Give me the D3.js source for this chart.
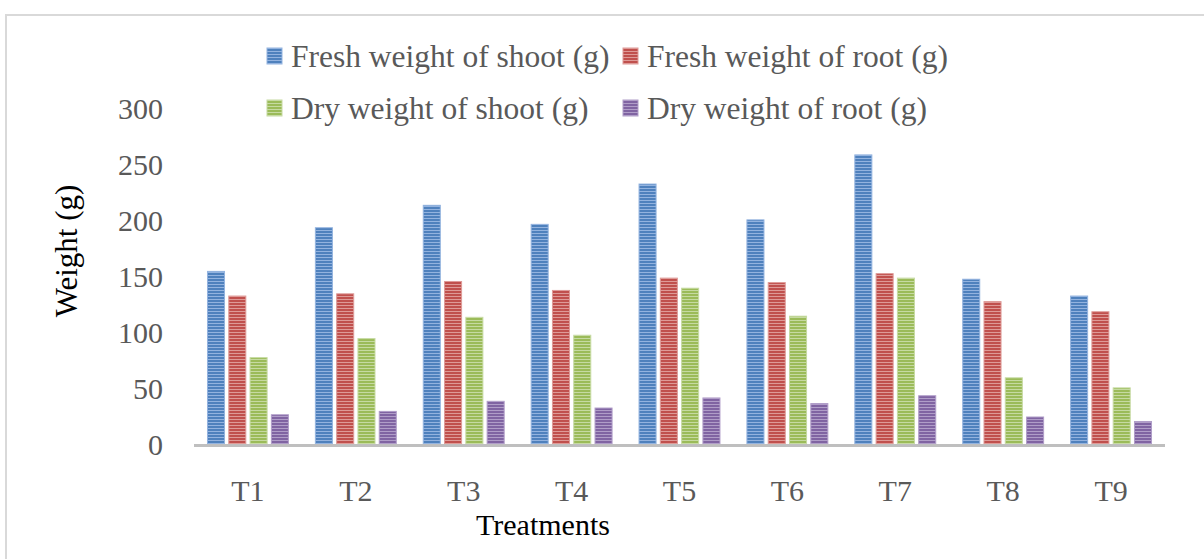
<!DOCTYPE html>
<html>
<head>
<meta charset="utf-8">
<script src="https://cdn.jsdelivr.net/npm/d3@7"></script>
<style>
  html, body { margin: 0; padding: 0; background: #fff; }
  svg { display: block; font-family: "Liberation Serif", "Times New Roman", serif; }
</style>
</head>
<body>
<svg id="chart" width="1204" height="559"></svg>
<script>
const categories = ["T1", "T2", "T3", "T4", "T5", "T6", "T7", "T8", "T9"];
const seriesNames = ["Fresh weight of shoot (g)", "Fresh weight of root (g)", "Dry weight of shoot (g)", "Dry weight of root (g)"];
const freshShoot = [155, 194, 214, 197, 233, 201, 259, 148, 133];
const freshRoot  = [133, 135, 146, 138, 149, 145, 153, 128, 119];
const dryShoot   = [78, 95, 114, 98, 140, 115, 149, 60, 51];
const dryRoot    = [27, 30, 39, 33, 42, 37, 44, 25, 21];
const yTicks = [0, 50, 100, 150, 200, 250, 300];

const seriesValues = [freshShoot, freshRoot, dryShoot, dryRoot];
const baseColors = ["#4F81BD", "#C0504D", "#9BBB59", "#8064A2"];
const lightColors = ["#93b3df", "#de9a97", "#c6daa2", "#b09dc8"];

const svg = d3.select("#chart");
const defs = svg.append("defs");
baseColors.forEach((c, i) => {
  const p = defs.append("pattern")
    .attr("id", "stripe" + i)
    .attr("patternUnits", "userSpaceOnUse")
    .attr("width", 4).attr("height", 3);
  p.append("rect").attr("width", 4).attr("height", 3).attr("fill", c);
  p.append("rect").attr("y", 2).attr("width", 4).attr("height", 1).attr("fill", lightColors[i]);
});

// outer frame
svg.append("rect")
  .attr("x", 6).attr("y", 15).attr("width", 1260).attr("height", 620)
  .attr("fill", "none").attr("stroke", "#d9d9d9").attr("stroke-width", 2);

const x0 = d3.scaleBand().domain(categories).range([194, 1165]).paddingInner(0.25).paddingOuter(0.125);
const x1 = d3.scaleBand().domain(d3.range(seriesNames.length)).range([0, x0.bandwidth()]).paddingInner(0.2);
const y = d3.scaleLinear().domain([0, 300]).range([445, 109]);

// bars
const groups = svg.append("g").selectAll("g")
  .data(categories)
  .join("g")
  .attr("transform", d => `translate(${x0(d)},0)`);

groups.selectAll("rect")
  .data((d, ci) => seriesValues.map((vals, si) => ({ si, v: vals[ci] })))
  .join("rect")
  .attr("x", d => x1(d.si))
  .attr("width", x1.bandwidth())
  .attr("y", d => y(d.v))
  .attr("height", d => y(0) - y(d.v))
  .attr("fill", d => `url(#stripe${d.si})`)
  .attr("stroke", d => lightColors[d.si])
  .attr("stroke-width", 1);

// x axis line
svg.append("line")
  .attr("x1", 194).attr("x2", 1165)
  .attr("y1", y(0) + 0.5).attr("y2", y(0) + 0.5)
  .attr("stroke", "#bfbfbf").attr("stroke-width", 3);

// y tick labels
const yAxis = d3.axisLeft(y).tickValues(yTicks).tickSize(0).tickPadding(0);
const yg = svg.append("g").attr("transform", "translate(163,0)").call(yAxis);
yg.select(".domain").remove();
yg.selectAll("text")
  .attr("font-family", "Liberation Serif, Times New Roman, serif")
  .attr("font-size", 30).attr("fill", "#595959")
  .attr("dy", "0.33em");

// x tick labels
const xAxis = d3.axisBottom(x0).tickSize(0).tickPadding(0);
const xg = svg.append("g").attr("transform", "translate(0,501)").call(xAxis);
xg.select(".domain").remove();
xg.selectAll("text")
  .attr("font-family", "Liberation Serif, Times New Roman, serif")
  .attr("font-size", 30).attr("fill", "#595959")
  .attr("dy", 0).attr("y", 0);

// axis titles
svg.append("text")
  .attr("x", 543).attr("y", 535)
  .attr("text-anchor", "middle")
  .attr("font-size", 30).attr("fill", "#000")
  .text("Treatments");

svg.append("text")
  .attr("transform", "translate(77,251) rotate(-90)")
  .attr("text-anchor", "middle")
  .attr("font-size", 31).attr("fill", "#000")
  .text("Weight (g)");

// legend
const legendPos = [
  { x: 267, y: 67 }, { x: 623, y: 67 },
  { x: 267, y: 119 }, { x: 623, y: 119 }
];
const lg = svg.append("g").selectAll("g")
  .data(seriesNames)
  .join("g")
  .attr("transform", (d, i) => `translate(${legendPos[i].x},${legendPos[i].y})`);
lg.append("rect")
  .attr("x", 0).attr("y", -19).attr("width", 15).attr("height", 16)
  .attr("fill", (d, i) => `url(#stripe${i})`)
  .attr("stroke", (d, i) => lightColors[i]).attr("stroke-width", 1);
lg.append("text")
  .attr("x", 24).attr("y", 0)
  .attr("font-size", 31.5).attr("fill", "#595959")
  .text(d => d);
</script>
</body>
</html>
